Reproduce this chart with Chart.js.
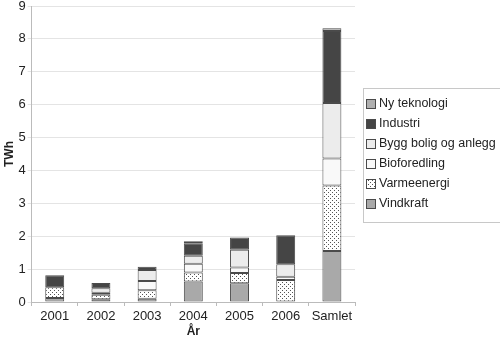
<!DOCTYPE html>
<html>
<head>
<meta charset="utf-8">
<script src="https://cdn.jsdelivr.net/npm/chart.js@4/dist/chart.umd.min.js"></script>
<style>
  html, body { margin:0; padding:0; background:#fff; }
  #wrap { width:500px; height:346px; position:relative; }
</style>
</head>
<body>
<div id="wrap"><canvas id="chart" width="500" height="346"></canvas></div>
<script>
// data (TWh)
const years = ['2001','2002','2003','2004','2005','2006','Samlet'];
const vindkraft   = [0.12, 0.08, 0.10, 0.62, 0.57, 0.00, 1.55];
const varmeenergi = [0.33, 0.14, 0.26, 0.28, 0.31, 0.67, 1.99];
const bioforedling= [0.00, 0.06, 0.28, 0.26, 0.17, 0.10, 0.82];
const byggBolig   = [0.00, 0.14, 0.33, 0.25, 0.54, 0.38, 1.69];
const industri    = [0.36, 0.16, 0.10, 0.38, 0.37, 0.88, 2.19];
const nyTeknologi = [0.00, 0.00, 0.00, 0.06, 0.00, 0.00, 0.08];
const yTicks = [0,1,2,3,4,5,6,7,8,9];

function dotPattern(){
  const c = document.createElement('canvas');
  c.width = 4; c.height = 4;
  const g = c.getContext('2d');
  g.fillStyle = '#ffffff'; g.fillRect(0,0,4,4);
  g.fillStyle = '#555555';
  g.fillRect(0,0,1,1);
  g.fillRect(2,2,1,1);
  return g.createPattern(c, 'repeat');
}
const ctx = document.getElementById('chart').getContext('2d');
const dots = dotPattern();
const edge = '#4a4a4a';

const series = [
  { label:'Vindkraft', data:vindkraft, backgroundColor:'#a9a9a9' },
  { label:'Varmeenergi', data:varmeenergi, backgroundColor:dots },
  { label:'Bioforedling', data:bioforedling, backgroundColor:'#f9f9f9' },
  { label:'Bygg bolig og anlegg', data:byggBolig, backgroundColor:'#ececec' },
  { label:'Industri', data:industri, backgroundColor:'#454545' },
  { label:'Ny teknologi', data:nyTeknologi, backgroundColor:'#b0b0b0' }
];

// boxed legend on the right, top item = last dataset
const sideLegend = {
  id:'sideLegend',
  afterDraw(chart){
    const g = chart.ctx;
    const sets = chart.data.datasets.slice().reverse();
    const left = 363, top = 88, w = 140, h = 134, step = 20;
    g.save();
    g.strokeStyle = '#c8c8c8';
    g.lineWidth = 1;
    g.strokeRect(left + 0.5, top + 0.5, w, h);
    g.font = '12.5px "Liberation Sans", Arial, sans-serif';
    g.textBaseline = 'middle';
    g.fillStyle = '#222';
    sets.forEach((ds, i) => {
      const cy = top + 16 + i * step;
      g.fillStyle = ds.backgroundColor;
      g.fillRect(367, cy - 4, 8, 8);
      g.strokeStyle = edge;
      g.strokeRect(366.5, cy - 4.5, 9, 9);
      g.fillStyle = '#222';
      g.fillText(ds.label, 379, cy);
    });
    g.restore();
  }
};

Chart.defaults.font.family = '"Liberation Sans", Arial, sans-serif';
Chart.defaults.color = '#222';

new Chart(ctx, {
  type:'bar',
  data:{
    labels: years,
    datasets: series.map(s => ({
      ...s,
      borderColor: edge,
      borderWidth: 1,
      borderSkipped: false,
      categoryPercentage: 1,
      barPercentage: 0.41
    }))
  },
  options:{
    responsive:false,
    animation:false,
    layout:{ padding:{ top:0, right:145, bottom:7, left:2 } },
    plugins:{
      legend:{ display:false },
      tooltip:{ enabled:false }
    },
    scales:{
      x:{
        stacked:true,
        grid:{ drawOnChartArea:false, drawTicks:true, tickLength:4, color:'#bbb' },
        border:{ color:'#bbb' },
        ticks:{ font:{ size:13 }, color:'#222', padding:3, maxRotation:0, minRotation:0, autoSkip:false },
        title:{ display:true, text:'År', font:{ size:12, weight:'bold' }, color:'#222', padding:{ top:-3, bottom:0 } }
      },
      y:{
        stacked:true,
        min:0, max:9,
        afterBuildTicks(axis){ axis.ticks = yTicks.map(v => ({ value:v })); },
        afterFit(axis){ axis.paddingTop = 6; },
        grid:{ color:'#e4e4e4', tickLength:4 },
        border:{ color:'#bbb' },
        ticks:{ font:{ size:13 }, color:'#222', padding:2 },
        title:{ display:true, text:'TWh', font:{ size:12, weight:'bold' }, color:'#222', padding:{ top:0, bottom:0 } }
      }
    }
  },
  plugins:[sideLegend]
});
</script>
</body>
</html>
